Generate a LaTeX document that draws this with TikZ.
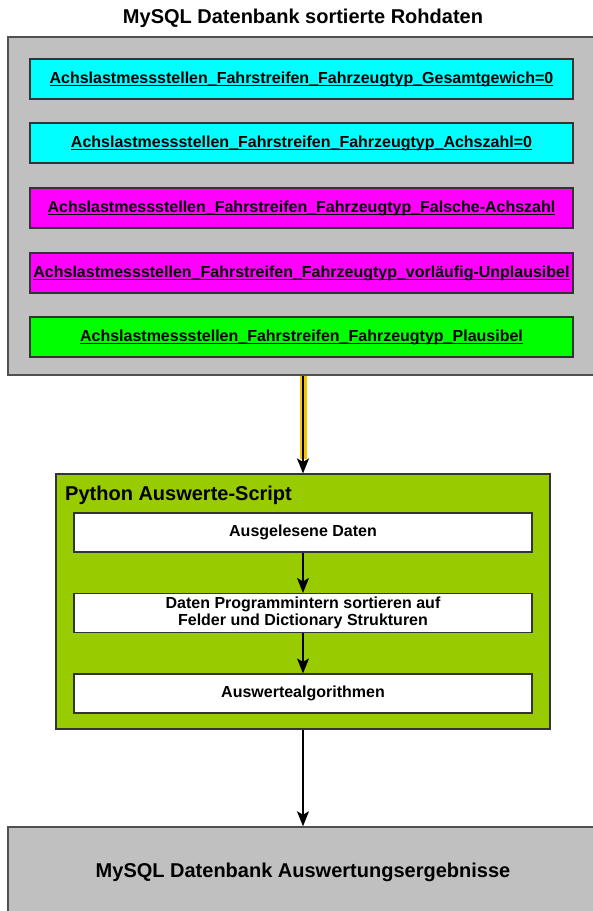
\documentclass[tikz,border=0pt]{standalone}
\usepackage{fontspec}
\setmainfont{Liberation Sans}
\usetikzlibrary{arrows.meta,positioning}
\definecolor{rawgray}{HTML}{C0C0C0}
\definecolor{edgegray}{HTML}{505050}
\definecolor{cyanfill}{HTML}{00FFFF}
\definecolor{magentafill}{HTML}{FF00FF}
\definecolor{greenfill}{HTML}{00FF00}
\definecolor{scriptgreen}{HTML}{99CC00}
\definecolor{pipeorange}{HTML}{F5C400}
\newcommand\ulbox[1]{\setbox0\hbox{#1}\rlap{\rule[-2.4pt]{\wd0}{1pt}}\box0}
\tikzset{
	dbbox/.style={draw=edgegray, line width=1.5pt, fill=rawgray, inner sep=0pt},
	tablebox/.style={draw=black!80, line width=1.2pt, minimum width=543pt, minimum height=40pt, inner sep=0pt, font=\fontsize{16}{18}\selectfont\bfseries},
	stepbox/.style={draw=black!80, fill=white, line width=1.2pt, minimum width=458pt, minimum height=39pt, inner sep=0pt, align=center, font=\fontsize{16}{17.5}\selectfont\bfseries},
	headline/.style={font=\fontsize{20}{23}\selectfont\bfseries, inner sep=0pt},
	flow/.style={-{Stealth[length=15pt, width=12pt, inset=3.5pt]}, line width=1.2pt}
}

\begin{document}
\begin{tikzpicture}[x=1pt, y=-1pt]
			%%%%% START %%%%%
			\useasboundingbox (0, 0) rectangle (593, 911);
			
			\node[headline] (rawtitle) at (303, 18) {MySQL Datenbank sortierte Rohdaten};
			\node[dbbox, minimum width=590pt, minimum height=338pt] (raw) at (303, 206) {};
			
			\node[tablebox, fill=cyanfill] (gesamt) at (301.5, 79) {\ulbox{Achslastmessstellen\_Fahrstreifen\_Fahrzeugtyp\_Gesamtgewich=0}};
			\node[tablebox, fill=cyanfill] (achszahl) at (301.5, 143) {\ulbox{Achslastmessstellen\_Fahrstreifen\_Fahrzeugtyp\_Achszahl=0}};
			\node[tablebox, fill=magentafill] (falsch) at (301.5, 208) {\ulbox{Achslastmessstellen\_Fahrstreifen\_Fahrzeugtyp\_Falsche-Achszahl}};
			\node[tablebox, fill=magentafill] (unplausibel) at (301.5, 273) {\ulbox{Achslastmessstellen\_Fahrstreifen\_Fahrzeugtyp\_vorläufig-Unplausibel}};
			\node[tablebox, fill=greenfill] (plausibel) at (301.5, 337) {\ulbox{Achslastmessstellen\_Fahrstreifen\_Fahrzeugtyp\_Plausibel}};
			
			\node[draw=black!80, line width=1.2pt, fill=scriptgreen, minimum width=494pt, minimum height=255pt] (script) at (303, 601.5) {};
			\node[headline, anchor=west] (scripttitle) at (65, 495) {Python Auswerte-Script};
			
			\node[stepbox] (read) at (303, 532.5) {Ausgelesene Daten};
			\node[stepbox] (sort) at (303, 613) {Daten Programmintern sortieren auf\\Felder und Dictionary Strukturen};
			\node[stepbox] (algo) at (303, 693.5) {Auswertealgorithmen};
			
			\node[dbbox, minimum width=590pt, minimum height=90pt] (result) at (303, 872) {};
			\node[headline] (resulttitle) at (303, 872) {MySQL Datenbank Auswertungsergebnisse};
			
			\draw[line width=7pt, color=pipeorange, shorten >=14pt] (raw.south) -- (script.north);
			\draw[flow, line width=2pt] (raw.south) -- (script.north);
			\draw[flow] (read) -- (sort);
			\draw[flow] (sort) -- (algo);
			\draw[flow] (script.south) -- (result.north);
			%%%%% END %%%%%
\end{tikzpicture}
\end{document}
